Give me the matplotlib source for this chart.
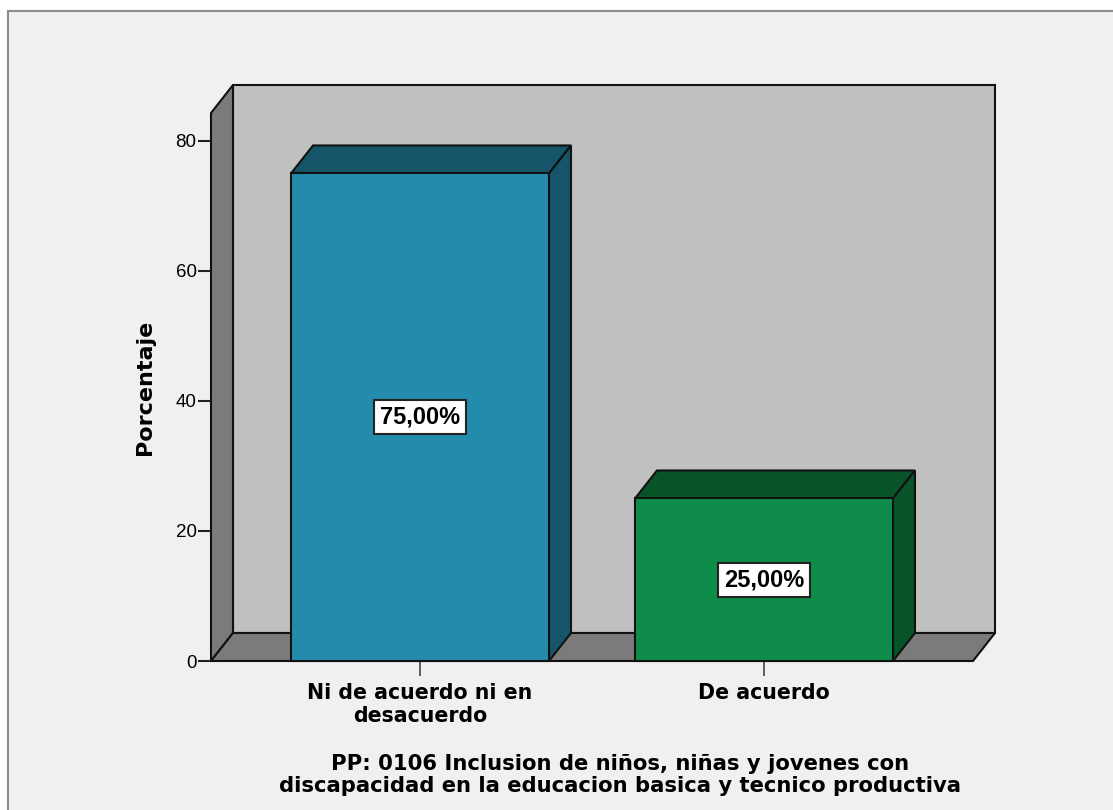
import matplotlib
matplotlib.use("Agg")
import matplotlib.pyplot as plt
from matplotlib.patches import Polygon, Rectangle

# data
categories = ["Ni de acuerdo ni en\ndesacuerdo", "De acuerdo"]
percentages = [75.0, 25.0]
value_labels = ["75,00%", "25,00%"]
front_colors = ["#238bac", "#108c4a"]
shade_colors = ["#155569", "#085428"]
y_ticks = [0, 20, 40, 60, 80]
x_title = ("PP: 0106 Inclusion de niños, niñas y jovenes con\n"
           "discapacidad en la educacion basica y tecnico productiva")
y_title = "Porcentaje"

W, H = 1113, 810
fig = plt.figure(figsize=(W / 100, H / 100), dpi=100)
fig.patch.set_facecolor("white")


def fx(px):
    return px / W


def fy(py):
    return 1 - py / H


# chart frame (SPSS output box, cut at right/bottom)
fig.add_artist(Rectangle((fx(8), -0.05), 1.2, fy(11) + 0.05, transform=fig.transFigure,
                         facecolor="#f0f0f0", edgecolor="#8c8c8c", lw=1.5, zorder=0))

# front plane of the pseudo-3D box
left, right, bottom, top = 211, 973, 661, 113
ax = fig.add_axes([fx(left), fy(bottom), fx(right) - fx(left), fy(top) - fy(bottom)])
x0, x1 = -0.6076, 1.6076
ytop = 84.3
ax.set_xlim(x0, x1)
ax.set_ylim(0, ytop)
ax.patch.set_visible(False)
for s in ax.spines.values():
    s.set_visible(False)

# depth offset (22 px right, 28 px up) in data units
DX = 22 / ((right - left) / (x1 - x0))
DY = 28 / ((bottom - top) / ytop)

edge = "#111111"
kw = dict(closed=True, clip_on=False, edgecolor=edge, linewidth=1.5, joinstyle="miter")
ax.add_patch(Polygon([(x0 + DX, DY), (x1 + DX, DY), (x1 + DX, ytop + DY), (x0 + DX, ytop + DY)],
                     facecolor="#c0c0c0", zorder=1, **kw))
ax.add_patch(Polygon([(x0, 0), (x0 + DX, DY), (x0 + DX, ytop + DY), (x0, ytop)],
                     facecolor="#7b7b7b", zorder=2, **kw))
ax.add_patch(Polygon([(x0, 0), (x1, 0), (x1 + DX, DY), (x0 + DX, DY)],
                     facecolor="#7b7b7b", zorder=2, **kw))

xs = list(range(len(categories)))
bw = 0.75
ax.bar(xs, percentages, width=bw, color=front_colors, edgecolor=edge, linewidth=1.5,
       zorder=5, clip_on=False)
for x, v, c in zip(xs, percentages, shade_colors):
    l, r = x - bw / 2, x + bw / 2
    ax.add_patch(Polygon([(l, v), (r, v), (r + DX, v + DY), (l + DX, v + DY)],
                         facecolor=c, zorder=4, **kw))
    ax.add_patch(Polygon([(r, 0), (r + DX, DY), (r + DX, v + DY), (r, v)],
                         facecolor=c, zorder=4, **kw))

for x, v, lab in zip(xs, percentages, value_labels):
    ax.text(x, v / 2, lab, ha="center", va="center", fontsize=17, fontweight="bold",
            family="Liberation Sans", zorder=6,
            bbox=dict(boxstyle="square,pad=0.24", facecolor="white", edgecolor="#222222", lw=1.5))

ax.set_yticks(y_ticks)
ax.set_yticklabels([str(t) for t in y_ticks], family="Liberation Sans", fontsize=13.5)
ax.tick_params(axis="y", direction="out", length=9.4, width=1.5, color="#222222", pad=1)
ax.set_xticks(xs)
ax.set_xticklabels(categories, fontweight="bold", fontsize=14.8, family="DejaVu Sans")
ax.tick_params(axis="x", direction="out", length=10.8, width=1.2, color="#444444", pad=5)

fig.text(fx(145), fy(387), y_title, rotation=90, ha="center", va="center",
         fontsize=16, fontweight="bold", family="DejaVu Sans")
fig.text(fx(620), fy(775), x_title, ha="center", va="center", fontsize=15.2,
         fontweight="bold", family="DejaVu Sans", linespacing=1.12)

fig.savefig("out.png", dpi=100)
